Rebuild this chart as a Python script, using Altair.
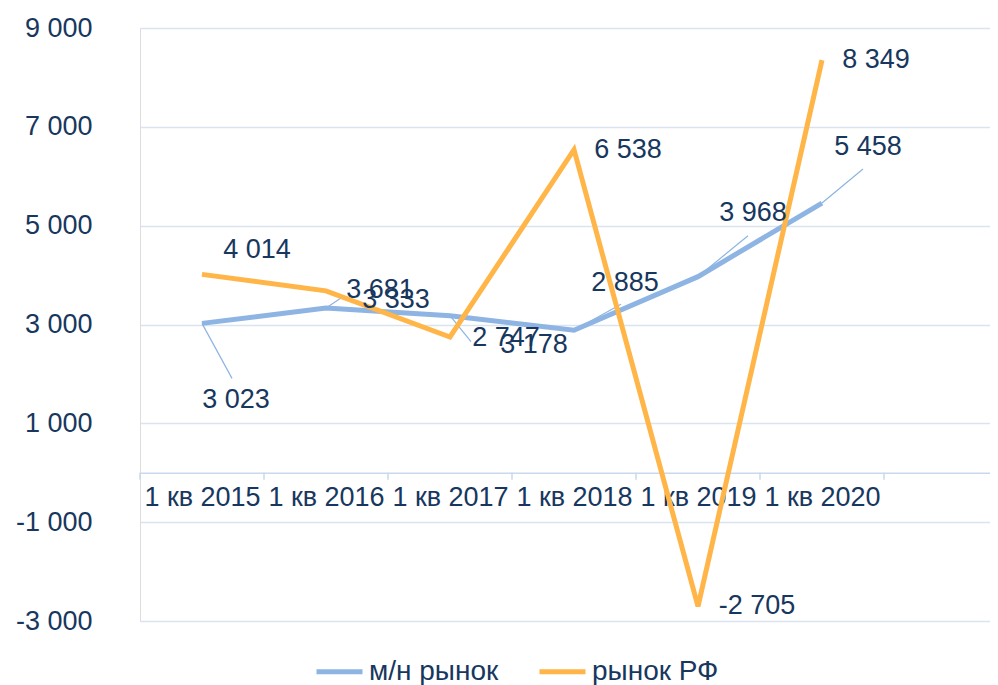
import altair as alt
import pandas as pd

# ---- data ----
categories = ["1 кв 2015", "1 кв 2016", "1 кв 2017", "1 кв 2018", "1 кв 2019", "1 кв 2020"]
mn_market = [3023, 3333, 3178, 2885, 3968, 5458]
rf_market = [4014, 3681, 2747, 6538, -2705, 8349]
series_names = ["м/н рынок", "рынок РФ"]
y_ticks = [-3000, -1000, 1000, 3000, 5000, 7000, 9000]

# ---- style: label / leader offsets in pixels (dx, dy) ----
mn_label_off = [(34, 77), (70, -8), (84, 29), (51, -47), (55, -64), (46, -56)]
rf_label_off = [(55, -24), (54, -1), (56, 1), (54, 0), (59, 0), (54, 0)]
mn_leader_off = [(30, 55), (15, -10), (21, 26), (47, -26), (50, -41), (41, -34)]

BLUE = "#8DB4E2"
ORANGE = "#FFB547"
NAVY = "#17375E"
GRID = "#D9E4F1"
AXIS_C = "#C9D9EC"
FONT = "Liberation Sans"
FS = 27

W, H = 850, 593
SLOT = 124.0
X_MAX = W / SLOT
Y_MIN, Y_MAX = -3000, 9000
PX_Y = H / (Y_MAX - Y_MIN)
TICK_PX = 7


def fmt(v):
    return f"{v:,}".replace(",", " ")


line_rows, text_rows, lead_rows = [], [], []
for s, vals, offs in [(series_names[0], mn_market, mn_label_off),
                      (series_names[1], rf_market, rf_label_off)]:
    for i, v in enumerate(vals):
        x = i + 0.5
        line_rows.append({"x": x, "value": v, "series": s})
        dx, dy = offs[i]
        text_rows.append({"x": x + dx / SLOT, "value": v - dy / PX_Y, "label": fmt(v)})
for i, v in enumerate(mn_market):
    x = i + 0.5
    dx, dy = mn_leader_off[i]
    lead_rows.append({"x": x, "value": v, "x2": x + dx / SLOT, "value2": v - dy / PX_Y})

tick_df = pd.DataFrame({
    "x": list(range(len(categories) + 1)),
    "value": [0] * (len(categories) + 1),
    "value2": [-TICK_PX / PX_Y] * (len(categories) + 1),
})

lines_df = pd.DataFrame(line_rows)
text_df = pd.DataFrame(text_rows)
lead_df = pd.DataFrame(lead_rows)

cat_js = "[" + ",".join("'" + c + "'" for c in categories) + "]"

x_scale = alt.Scale(domain=[0, X_MAX], nice=False, zero=False)
y_scale = alt.Scale(domain=[Y_MIN, Y_MAX], nice=False, zero=False)

x_axis = alt.Axis(
    values=[i + 0.5 for i in range(len(categories))], title=None, grid=False,
    offset=-(H - (Y_MAX - 0) * PX_Y), ticks=False, tickSize=TICK_PX,
    domainColor=AXIS_C, domainWidth=1.5,
    labelExpr=f"{cat_js}[floor(datum.value)]", labelAlign="center",
    labelPadding=12, labelFont=FONT, labelFontSize=FS, labelColor=NAVY,
    labelFlush=False, labelOverlap=False,
)
y_axis = alt.Axis(
    values=y_ticks, title=None, grid=True, gridColor=GRID, gridWidth=1.5,
    domain=False, ticks=False, tickSize=0, labelPadding=48,
    labelExpr="replace(replace(format(datum.value, ',.0f'), ',', ' '), '\u2212', '-')",
    labelFont=FONT, labelFontSize=FS, labelColor=NAVY,
)

X = alt.X("x:Q", scale=x_scale, axis=x_axis)
Y = alt.Y("value:Q", scale=y_scale, axis=y_axis)

color = alt.Color(
    "series:N",
    scale=alt.Scale(domain=series_names, range=[BLUE, ORANGE]),
    legend=alt.Legend(
        title=None, orient="none", legendX=174, legendY=618, direction="horizontal",
        symbolType="stroke", symbolStrokeWidth=5, symbolSize=2116,
        labelFont=FONT, labelFontSize=28, labelColor=NAVY, labelOffset=4,
        columnPadding=30,
    ),
)

ticks = alt.Chart(tick_df).mark_rule(color=AXIS_C, strokeWidth=1.5).encode(
    x=X, y=Y, y2="value2:Q"
)
leaders = alt.Chart(lead_df).mark_rule(color=BLUE, strokeWidth=1.2).encode(
    x=X, y=Y, x2="x2:Q", y2="value2:Q"
)
blue_line = alt.Chart(lines_df[lines_df.series == series_names[0]]).mark_line(
    strokeWidth=5
).encode(x=X, y=Y, color=color)
orange_line = alt.Chart(lines_df[lines_df.series == series_names[1]]).mark_line(
    strokeWidth=5
).encode(x=X, y=Y, color=color)
labels = alt.Chart(text_df).mark_text(
    font=FONT, fontSize=FS, color=NAVY, align="center", baseline="middle"
).encode(x=X, y=Y, text="label:N")

chart = alt.layer(ticks, leaders, blue_line, orange_line, labels).properties(
    width=W, height=H,
    autosize=alt.AutoSizeParams(type="none"),
    padding={"left": 132, "top": 20, "right": 0, "bottom": 64},
).configure_view(stroke=None).configure(background="white")

chart.save("out.html", embed_options={"renderer": "svg", "actions": False})
